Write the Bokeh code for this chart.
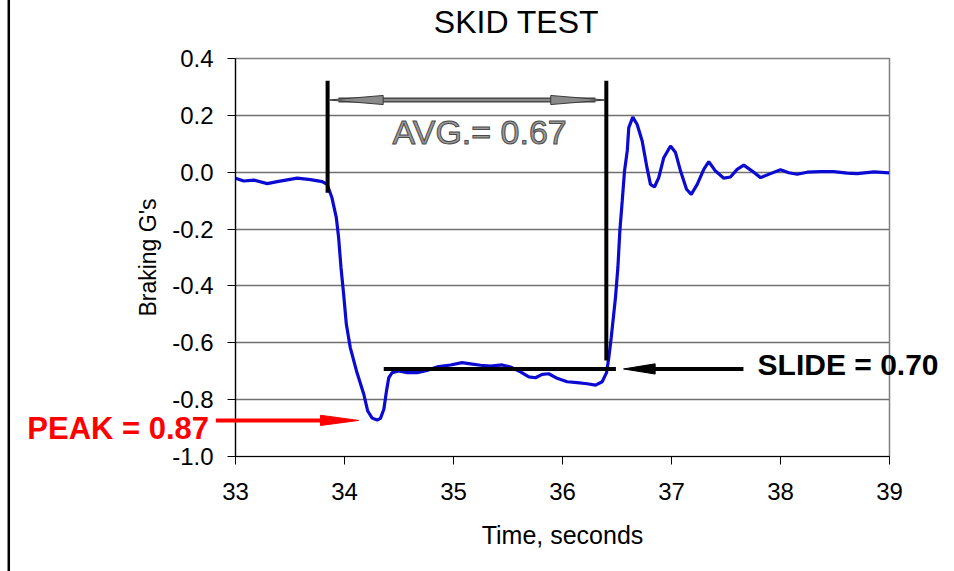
import numpy as np
from bokeh.plotting import figure
from bokeh.models import Range1d, FixedTicker, NumeralTickFormatter, ColumnDataSource
from bokeh.core.properties import value
from bokeh.embed import file_html
from bokeh.resources import INLINE

# ---------------- data ----------------
time_s = [33.000, 33.076, 33.168, 33.291, 33.383, 33.566, 33.688, 33.795, 33.841, 33.885,
          33.925, 33.946, 33.968, 33.992, 34.017, 34.053, 34.110, 34.177, 34.213, 34.254,
          34.300, 34.330, 34.361, 34.385, 34.406, 34.437, 34.498, 34.575, 34.667, 34.757,
          34.849, 34.972, 35.079, 35.156, 35.248, 35.339, 35.447, 35.523, 35.615, 35.691,
          35.752, 35.814, 35.874, 35.951, 36.043, 36.135, 36.226, 36.303, 36.364, 36.404,
          36.425, 36.447, 36.486, 36.508, 36.526, 36.548, 36.569, 36.594, 36.608, 36.645,
          36.685, 36.731, 36.775, 36.807, 36.844, 36.883, 36.929, 36.991, 37.037, 37.083,
          37.138, 37.181, 37.236, 37.296, 37.342, 37.404, 37.480, 37.541, 37.602, 37.663,
          37.740, 37.817, 37.908, 38.000, 38.076, 38.153, 38.245, 38.367, 38.489, 38.612,
          38.704, 38.857, 38.997]
braking_g = [-0.021, -0.031, -0.028, -0.040, -0.033, -0.021, -0.026, -0.033, -0.043, -0.090,
             -0.160, -0.230, -0.336, -0.429, -0.535, -0.617, -0.699, -0.781, -0.840, -0.865,
             -0.872, -0.866, -0.834, -0.770, -0.723, -0.705, -0.699, -0.705, -0.705, -0.697,
             -0.685, -0.678, -0.670, -0.674, -0.679, -0.682, -0.678, -0.685, -0.702, -0.720,
             -0.723, -0.711, -0.709, -0.725, -0.737, -0.740, -0.744, -0.749, -0.737, -0.705,
             -0.652, -0.582, -0.441, -0.336, -0.207, -0.101, 0.004, 0.075, 0.157, 0.194,
             0.168, 0.110, 0.016, -0.043, -0.052, -0.019, 0.051, 0.092, 0.069, 0.004,
             -0.060, -0.078, -0.043, 0.010, 0.037, 0.004, -0.021, -0.017, 0.010, 0.025,
             0.004, -0.019, -0.005, 0.009, -0.002, -0.007, 0.000, 0.002, 0.002, -0.003,
             -0.005, 0.001, -0.002]

x_ticks = [33, 34, 35, 36, 37, 38, 39]
y_ticks = [-1.0, -0.8, -0.6, -0.4, -0.2, 0.0, 0.2, 0.4]

title_text = "SKID TEST"
title_pos = [35.578, 0.528]            # centre / baseline of the chart title
x_label = "Time, seconds"
y_label = "Braking G's"

# annotations (data units)
avg_bracket_x = [33.845, 36.402]
avg_bracket_top = 0.322
avg_bracket_bottom = [-0.072, -0.662]
avg_arrow_y = 0.254
avg_text = "AVG.= 0.67"
avg_text_pos = [35.24, 0.142]

slide_line_x = [34.36, 36.49]
slide_y = -0.692
slide_arrow_x = [37.66, 36.56]        # tail, tip
slide_text = "SLIDE = 0.70"
slide_text_pos = [37.79, -0.676]

peak_arrow_x = [32.82, 34.13]          # tail, tip
peak_y = -0.873
peak_text = "PEAK = 0.87"
peak_text_pos = [31.09, -0.903]

sheet_border_x = 30.92                 # left edge line of the chart sheet

FONT = "Liberation Sans"

p = figure(width=954, height=571, output_backend="svg", toolbar_location=None,
           x_range=Range1d(33, 39), y_range=Range1d(-1.0, 0.4),
           min_border_left=235, min_border_right=65, min_border_top=58,
           min_border_bottom=115, background_fill_color="white",
           border_fill_color="white")

p.outline_line_color = "#808080"
p.outline_line_width = 1.5

# axes
for ax in (p.xaxis[0], p.yaxis[0]):
    ax.axis_line_color = "black"
    ax.axis_line_width = 1.2
    ax.major_tick_line_color = "black"
    ax.major_tick_in = 0
    ax.major_tick_out = 8
    ax.minor_tick_line_color = None
    ax.major_label_text_font = FONT
    ax.major_label_text_color = "black"
    ax.axis_label_text_font = FONT
    ax.axis_label_text_font_style = "normal"
    ax.axis_label_text_color = "black"

p.xaxis.ticker = FixedTicker(ticks=x_ticks)
p.yaxis.ticker = FixedTicker(ticks=y_ticks)
p.yaxis.formatter = NumeralTickFormatter(format="0.0")
p.xaxis.major_label_text_font_size = "24px"
p.yaxis.major_label_text_font_size = "24px"
p.xaxis.major_label_standoff = 18
p.yaxis.major_label_standoff = 14
p.xaxis.axis_label = x_label
p.yaxis.axis_label = y_label
p.xaxis.axis_label_text_font_size = "25px"
p.yaxis.axis_label_text_font_size = "23px"
p.xaxis.axis_label_standoff = 18
p.yaxis.axis_label_standoff = 8

p.xgrid.grid_line_color = None
p.ygrid.grid_line_color = "#707070"
p.ygrid.grid_line_width = 1.3

# chart title (drawn above the plot area)
p.text(x=[title_pos[0]], y=[title_pos[1]], text=[title_text],
       text_align="center", text_baseline="alphabetic",
       text_font=value(FONT), text_font_size="32px", text_color="black",
       level="overlay")

# data line
src = ColumnDataSource(dict(t=time_s, g=braking_g))
p.line("t", "g", source=src, line_color="#0a0ad2", line_width=3.2)

# brackets for average
p.segment(x0=avg_bracket_x, y0=[avg_bracket_top] * 2, x1=avg_bracket_x,
          y1=avg_bracket_bottom, line_color="black", line_width=4)

def head(tip, y, length, half, direction):
    base = tip - direction * length
    return [tip, base, base], [y, y + half, y - half]

# double arrow (grey)
avg_head_len = 0.50
avg_head_half = 0.016
shaft_x0 = avg_bracket_x[0] + 0.1
shaft_x1 = avg_bracket_x[1] - 0.1
p.segment(x0=[shaft_x0], y0=[avg_arrow_y], x1=[shaft_x1], y1=[avg_arrow_y],
          line_color="#3a3a3a", line_width=5)
p.segment(x0=[shaft_x0], y0=[avg_arrow_y], x1=[shaft_x1], y1=[avg_arrow_y],
          line_color="#8a8a8a", line_width=2.5)
lx, ly = head(avg_bracket_x[0] + 0.01, avg_arrow_y, avg_head_len, avg_head_half, -1)
rx, ry = head(avg_bracket_x[1] - 0.01, avg_arrow_y, avg_head_len, avg_head_half, 1)
p.patches(xs=[lx, rx], ys=[ly, ry], fill_color="#8a8a8a", line_color="#3a3a3a",
          line_width=1)

p.text(x=[avg_text_pos[0]], y=[avg_text_pos[1]], text=[avg_text],
       text_align="center", text_baseline="middle",
       text_font=value(FONT), text_font_size="34px",
       text_color="#9a9a9a", text_outline_color="#4a4a4a", level="overlay")

# slide line and arrow
p.segment(x0=[slide_line_x[0]], y0=[slide_y], x1=[slide_line_x[1]], y1=[slide_y],
          line_color="black", line_width=4)
slide_head_len = 0.29
sx, sy = head(slide_arrow_x[1], slide_y, slide_head_len, 0.018, -1)
p.segment(x0=[slide_arrow_x[0]], y0=[slide_y], x1=[slide_arrow_x[1] + slide_head_len * 0.8],
          y1=[slide_y], line_color="black", line_width=4)
p.patch(x=sx, y=sy, fill_color="black", line_color="black", line_width=1)
p.text(x=[slide_text_pos[0]], y=[slide_text_pos[1]], text=[slide_text],
       text_align="left", text_baseline="middle",
       text_font=value(FONT), text_font_size="30px", text_font_style="bold",
       text_color="black", level="overlay")

# peak arrow
peak_head_len = 0.35
p.segment(x0=[peak_arrow_x[0]], y0=[peak_y], x1=[peak_arrow_x[1] - peak_head_len * 0.8],
          y1=[peak_y], line_color="#ff0000", line_width=4, level="overlay")
px_, py_ = head(peak_arrow_x[1], peak_y, peak_head_len, 0.018, 1)
p.patch(x=px_, y=py_, fill_color="#ff0000", line_color="#ff0000", line_width=1)
p.text(x=[peak_text_pos[0]], y=[peak_text_pos[1]], text=[peak_text],
       text_align="left", text_baseline="middle",
       text_font=value(FONT), text_font_size="31px", text_font_style="bold",
       text_color="#ff0000", level="overlay")

# left border of the chart sheet
p.segment(x0=[sheet_border_x], y0=[-3.0], x1=[sheet_border_x], y1=[3.0],
          line_color="black", line_width=2.5, level="overlay")

open("out.html", "w").write(file_html(p, INLINE))
